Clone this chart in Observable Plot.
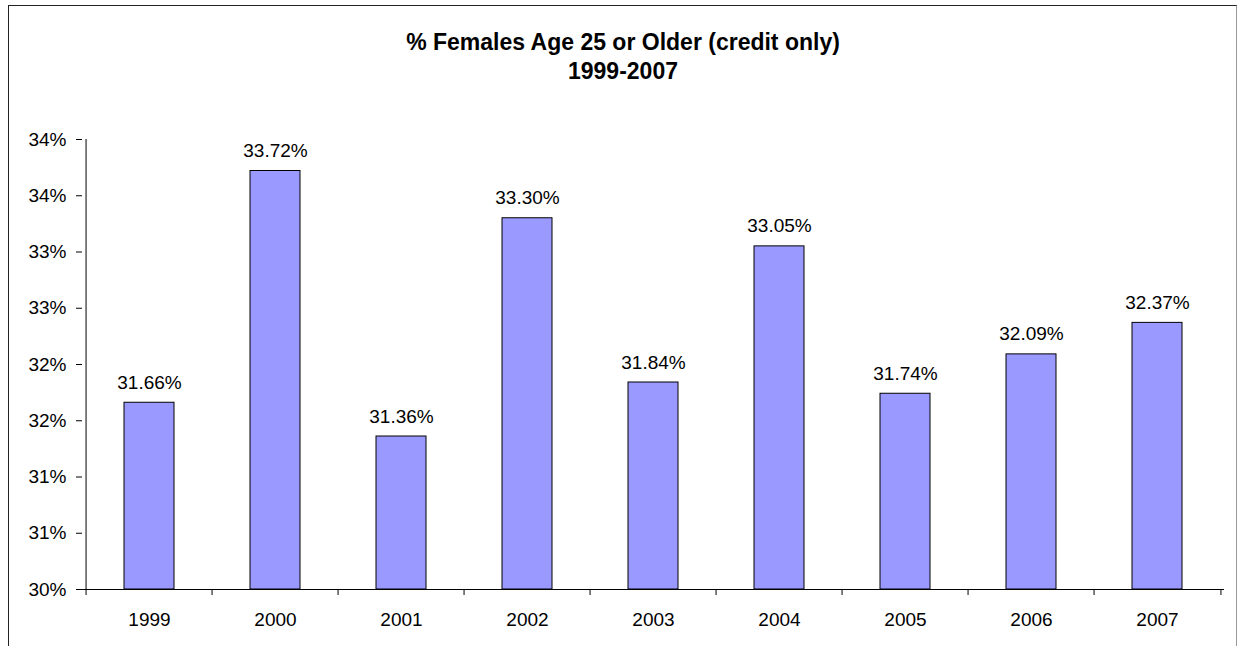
<!DOCTYPE html>
<html>
<head>
<meta charset="utf-8">
<script src="https://cdn.jsdelivr.net/npm/d3@7"></script>
<script src="https://cdn.jsdelivr.net/npm/@observablehq/plot@0.6"></script>
<style>
  html, body { margin: 0; padding: 0; background: #fff; }
  #wrap { position: relative; width: 1238px; height: 646px; overflow: hidden; font-family: "Liberation Sans", Arial, sans-serif; }
  #border { position: absolute; left: 8px; top: 5px; width: 1229px; height: 700px; border: 1px solid #222; border-right-color: #999; box-sizing: border-box; }
  #title { position: absolute; left: 8px; top: 28px; width: 1230px; text-align: center; font-size: 23px; font-weight: bold; line-height: 29px; color: #000; }
  #plot { position: absolute; left: 0; top: 100px; }
</style>
</head>
<body>
<div id="wrap">
  <div id="border"></div>
  <div id="title">% Females Age 25 or Older (credit only)<br>1999-2007</div>
  <div id="plot"></div>
</div>
<script>
const categories = ["1999", "2000", "2001", "2002", "2003", "2004", "2005", "2006", "2007"];
const values = [31.66, 33.72, 31.36, 33.30, 31.84, 33.05, 31.74, 32.09, 32.37];
const yTicks = [30, 30.5, 31, 31.5, 32, 32.5, 33, 33.5, 34];
const yTickLabels = ["30%", "31%", "31%", "32%", "32%", "33%", "33%", "34%", "34%"];

const data = categories.map((c, i) => ({year: c, value: values[i]}));
const baseline = yTicks[0];

const width = 1238, height = 546;
const marginLeft = 82, marginRight = 14, marginTop = 39, marginBottom = 57;
const step = (width - marginLeft - marginRight) / categories.length;

const chart = Plot.plot({
  width, height, marginLeft, marginRight, marginTop, marginBottom,
  style: {background: "transparent", fontFamily: "'Liberation Sans', Arial, sans-serif", color: "#000", overflow: "visible", maxWidth: "none"},
  x: {domain: categories, paddingInner: 0.6, paddingOuter: 0.3, label: null},
  y: {domain: [yTicks[0], yTicks[yTicks.length - 1]], label: null},
  marks: [
    Plot.barY(data, {x: "year", y1: () => baseline, y2: "value", fill: "#9999FF", stroke: "#000", strokeWidth: 1}),
    Plot.text(data, {x: "year", y: "value", text: d => d.value.toFixed(2) + "%", lineAnchor: "bottom", dy: -14, fontSize: 19, fill: "#000"}),
    Plot.ruleY([baseline], {stroke: "#000", strokeWidth: 1}),
    Plot.ruleX([categories[0]], {x: d => d, dx: -step / 2, y1: () => baseline, y2: () => yTicks[yTicks.length - 1], stroke: "#000"}),
    Plot.ruleX(categories, {x: d => d, dx: -step / 2, y1: () => baseline, y2: () => baseline, insetBottom: -6, stroke: "#000"}),
    Plot.ruleX([categories[categories.length - 1]], {x: d => d, dx: step / 2, y1: () => baseline, y2: () => baseline, insetBottom: -6, stroke: "#000"}),
    Plot.axisY({ticks: yTicks, tickFormat: d => yTickLabels[yTicks.indexOf(d)], tickSize: 6, tickPadding: 10, fontSize: 19, label: null}),
    Plot.axisX({tickSize: 0, tickPadding: 23, fontSize: 19, label: null})
  ]
});
document.getElementById("plot").appendChild(chart);
</script>
</body>
</html>
